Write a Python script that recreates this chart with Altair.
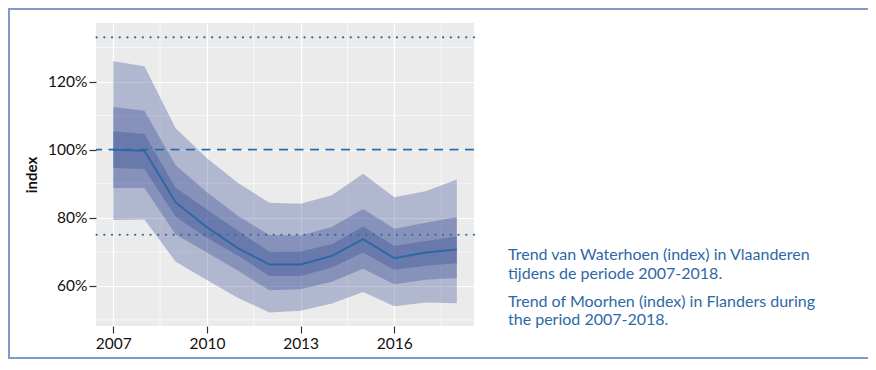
import altair as alt
import pandas as pd

years = list(range(2007, 2019))
trend = [100.0, 99.7, 84.5, 77.2, 71.0, 66.3, 66.3, 68.8, 73.7, 68.1, 69.8, 70.7]
outer_hi = [126.0, 124.5, 106.3, 97.5, 90.2, 84.4, 84.1, 86.6, 92.9, 86.0, 87.8, 91.2]
outer_lo = [79.3, 79.5, 67.1, 61.7, 56.4, 52.2, 52.7, 54.8, 58.2, 54.0, 55.1, 54.9]
mid_hi = [112.5, 111.4, 95.4, 87.5, 80.5, 74.9, 74.8, 77.3, 82.6, 76.8, 78.5, 80.2]
mid_lo = [88.7, 88.7, 75.1, 69.8, 64.4, 58.7, 59.0, 61.2, 65.0, 60.5, 61.8, 62.3]
in_hi = [105.4, 104.6, 88.8, 82.4, 76.1, 70.0, 70.1, 72.2, 77.4, 71.7, 73.2, 74.5]
in_lo = [94.6, 94.3, 80.3, 74.1, 68.8, 62.9, 62.9, 65.4, 69.8, 64.7, 65.9, 66.6]

ref_dotted = [1.33, 0.75]
ref_dashed = [1.0]
minor_y = [0.5, 0.7, 0.9, 1.1, 1.3]
minor_x = [2008.5, 2011.5, 2014.5, 2017.5]
x_ticks = [2007, 2010, 2013, 2016]
y_ticks = [0.6, 0.8, 1.0, 1.2]

caption = [
    "Trend van Waterhoen (index) in Vlaanderen",
    "tijdens de periode 2007-2018.",
    "Trend of Moorhen (index) in Flanders during",
    "the period 2007-2018.",
]

df = pd.DataFrame({
    "year": years,
    "trend": [v / 100 for v in trend],
    "o_hi": [v / 100 for v in outer_hi], "o_lo": [v / 100 for v in outer_lo],
    "m_hi": [v / 100 for v in mid_hi], "m_lo": [v / 100 for v in mid_lo],
    "i_hi": [v / 100 for v in in_hi], "i_lo": [v / 100 for v in in_lo],
})

W, H = 378, 303
BLUE = "#2d68a4"
BAND = "#28408c"
FONT = "Lato"

xs = alt.Scale(domain=[2006.45, 2018.55], nice=False, zero=False)
ys = alt.Scale(domain=[0.482, 1.372], nice=False, zero=False)

xax = alt.Axis(values=x_ticks, format="d", title=None, domain=False,
               grid=True, gridColor="white", gridWidth=1.2,
               tickColor="#333333", tickSize=7, tickWidth=1.2,
               labelFont=FONT, labelFontSize=15.5, labelColor="#111111", labelPadding=3)
yax = alt.Axis(values=y_ticks, format=".0%", title="index", domain=False,
               grid=True, gridColor="white", gridWidth=1.2,
               tickColor="#333333", tickSize=7, tickWidth=1.2,
               labelFont=FONT, labelFontSize=15.5, labelColor="#111111", labelPadding=2,
               titleFont=FONT, titleFontSize=15, titleFontWeight="bold", titleColor="#111111",
               titlePadding=8)

base = alt.Chart(df)

axes_layer = base.mark_line(opacity=0).encode(
    x=alt.X("year:Q", scale=xs, axis=xax),
    y=alt.Y("trend:Q", scale=ys, axis=yax),
)

minor_h = alt.Chart(pd.DataFrame({"v": minor_y})).mark_rule(color="white", strokeWidth=0.6).encode(
    y=alt.Y("v:Q", scale=ys))
minor_v = alt.Chart(pd.DataFrame({"v": minor_x})).mark_rule(color="white", strokeWidth=0.6).encode(
    x=alt.X("v:Q", scale=xs))

def band(lo, hi):
    return base.mark_area(color=BAND, opacity=0.3).encode(
        x=alt.X("year:Q", scale=xs), y=alt.Y(f"{lo}:Q", scale=ys), y2=f"{hi}:Q")

line = base.mark_line(color=BLUE, strokeWidth=2).encode(
    x=alt.X("year:Q", scale=xs), y=alt.Y("trend:Q", scale=ys))

dotted = alt.Chart(pd.DataFrame({"v": ref_dotted})).mark_rule(
    color=BLUE, strokeWidth=2.2, strokeDash=[0.1, 7.6], strokeCap="round").encode(
    y=alt.Y("v:Q", scale=ys))
dashed = alt.Chart(pd.DataFrame({"v": ref_dashed})).mark_rule(
    color=BLUE, strokeWidth=1.6, strokeDash=[9, 6.5]).encode(
    y=alt.Y("v:Q", scale=ys))

border = alt.Chart(pd.DataFrame({"a": [0]})).mark_rect(
    filled=False, stroke="#7a9cc6", strokeWidth=2).encode(
    x=alt.value(-87), x2=alt.value(773), y=alt.value(-14), y2=alt.value(335))

line_y = [232, 250.5, 278.5, 297]
texts = [
    alt.Chart(pd.DataFrame({"t": [t]})).mark_text(
        align="left", baseline="middle", font=FONT, fontSize=16, color="#2e68a6").encode(
        x=alt.value(412), y=alt.value(yy), text="t:N")
    for t, yy in zip(caption, line_y)
]

chart = alt.layer(
    axes_layer, minor_h, minor_v,
    band("o_lo", "o_hi"), band("m_lo", "m_hi"), band("i_lo", "i_hi"),
    dotted, dashed, line, border, *texts,
).properties(
    width=W, height=H,
    autosize=alt.AutoSizeParams(type="none"),
    padding={"left": 88, "top": 15, "right": 394, "bottom": 36},
    background="white",
).configure_view(fill="#EBEBEB", strokeWidth=0)

chart.save("out.html", embed_options={"renderer": "svg", "actions": False})
